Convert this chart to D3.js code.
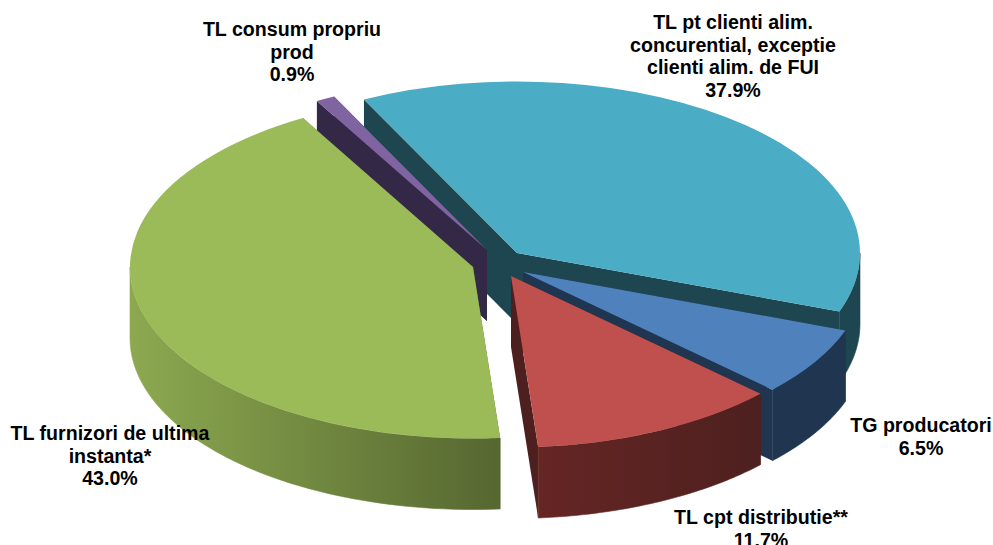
<!DOCTYPE html>
<html>
<head>
<meta charset="utf-8">
<script src="https://cdn.jsdelivr.net/npm/d3@7"></script>
<style>
    html, body { margin: 0; background: #fff; overflow: hidden; }
    text { font-family: "Liberation Sans", Arial, sans-serif; font-weight: bold; font-size: 19.6px; fill: #000; }
</style>
</head>
<body>
<svg width="993" height="545"></svg>
<script>
"use strict";

const categories = [
    "TL pt clienti alim. concurential, exceptie clienti alim. de FUI",
    "TG producatori",
    "TL cpt distributie**",
    "TL furnizori de ultima instanta*",
    "TL consum propriu prod"
];
const shares = [37.9, 6.5, 11.7, 43.0, 0.9];
const shareLabels = ["37.9%", "6.5%", "11.7%", "43.0%", "0.9%"];

const labelLines = [
    ["TL pt clienti alim.", "concurential, exceptie", "clienti alim. de FUI"],
    ["TG producatori"],
    ["TL cpt distributie**"],
    ["TL furnizori de ultima", "instanta*"],
    ["TL consum propriu", "prod"]
];

// look of each slice
const topColors = ["#4bacc6", "#4f81bd", "#c0504d", "#9bbb59", "#8064a2"];
const faceColors = ["#1e4651", "#1f3550", "#4d201f", "#566730", "#332845"];
const wallStops = [
    ["#1e4651", "#1e4651"],
    ["#1f3550", "#1f3550"],
    ["#652624", "#4d201f"],
    ["#8ca950", "#566730"],
    ["#332845", "#332845"]
];
const explodeX = [17, 23, 11, -27, -13];
const explodeY = [-9, 10, 14, 5, -12];
const labelX = [733, 921, 761, 110, 292];
const labelY = [22, 425, 517, 433, 29];
const drawOrder = [0, 4, 1, 2, 3];

const centerX = 500, centerY = 262;
const radius = 343, tilt = 0.5, depth = 71, lineGap = 22.6;
const firstAngle = -26.5 * Math.PI / 180;

const svg = d3.select("svg");
const defs = svg.append("defs");

const slices = d3.pie().sort(null).startAngle(firstAngle).endAngle(firstAngle + 2 * Math.PI)(shares);
const arc = d3.arc().innerRadius(0).outerRadius(radius);
const line = d3.line();

function rimPoint(i, angle, drop) {
    return [
        centerX + explodeX[i] + radius * Math.sin(angle),
        centerY + explodeY[i] - radius * tilt * Math.cos(angle) + drop
    ];
}

function apex(i, drop) {
    return [centerX + explodeX[i], centerY + explodeY[i] + drop];
}

function radialFace(i, angle) {
    return line([apex(i, 0), rimPoint(i, angle, 0), rimPoint(i, angle, depth), apex(i, depth)]) + "Z";
}

// outer wall: only the part of the rim that faces the viewer (90 to 270 degrees)
function outerWall(i, start, end) {
    const from = Math.max(start, Math.PI / 2);
    const to = Math.min(end, 3 * Math.PI / 2);
    if (from >= to) return null;
    const steps = d3.range(0, 61).map(k => from + (to - from) * k / 60);
    const upper = steps.map(a => rimPoint(i, a, 0));
    const lower = steps.slice().reverse().map(a => rimPoint(i, a, depth));
    return line(upper.concat(lower)) + "Z";
}

drawOrder.forEach(i => {
    const d = slices[i];
    const g = svg.append("g");

    const gradient = defs.append("linearGradient")
        .attr("id", "wall" + i)
        .attr("gradientUnits", "userSpaceOnUse")
        .attr("x1", rimPoint(i, Math.min(d.endAngle, 3 * Math.PI / 2), 0)[0])
        .attr("x2", rimPoint(i, Math.max(d.startAngle, Math.PI / 2), 0)[0])
        .attr("y1", 0).attr("y2", 0);
    gradient.append("stop").attr("offset", 0).attr("stop-color", wallStops[i][0]);
    gradient.append("stop").attr("offset", 1).attr("stop-color", wallStops[i][1]);

    g.append("path").attr("d", radialFace(i, d.startAngle)).attr("fill", faceColors[i]);
    g.append("path").attr("d", radialFace(i, d.endAngle)).attr("fill", faceColors[i]);

    const wall = outerWall(i, d.startAngle, d.endAngle);
    if (wall) g.append("path").attr("d", wall)
        .attr("fill", "url(#wall" + i + ")")
        .attr("stroke", "url(#wall" + i + ")")
        .attr("stroke-width", 0.6);

    g.append("path")
        .attr("d", arc(d))
        .attr("transform", "translate(" + apex(i, 0) + ") scale(1," + tilt + ")")
        .attr("fill", topColors[i]);
});

const labels = svg.selectAll(".label")
    .data(categories)
    .enter().append("text")
    .attr("class", "label")
    .attr("text-anchor", "middle");

labels.each(function (c, i) {
    const rows = labelLines[i].concat(shareLabels[i]);
    d3.select(this).selectAll("tspan")
        .data(rows)
        .enter().append("tspan")
        .attr("x", labelX[i])
        .attr("y", (r, k) => labelY[i] + 7 + k * lineGap)
        .text(r => r);
});
</script>
</body>
</html>
